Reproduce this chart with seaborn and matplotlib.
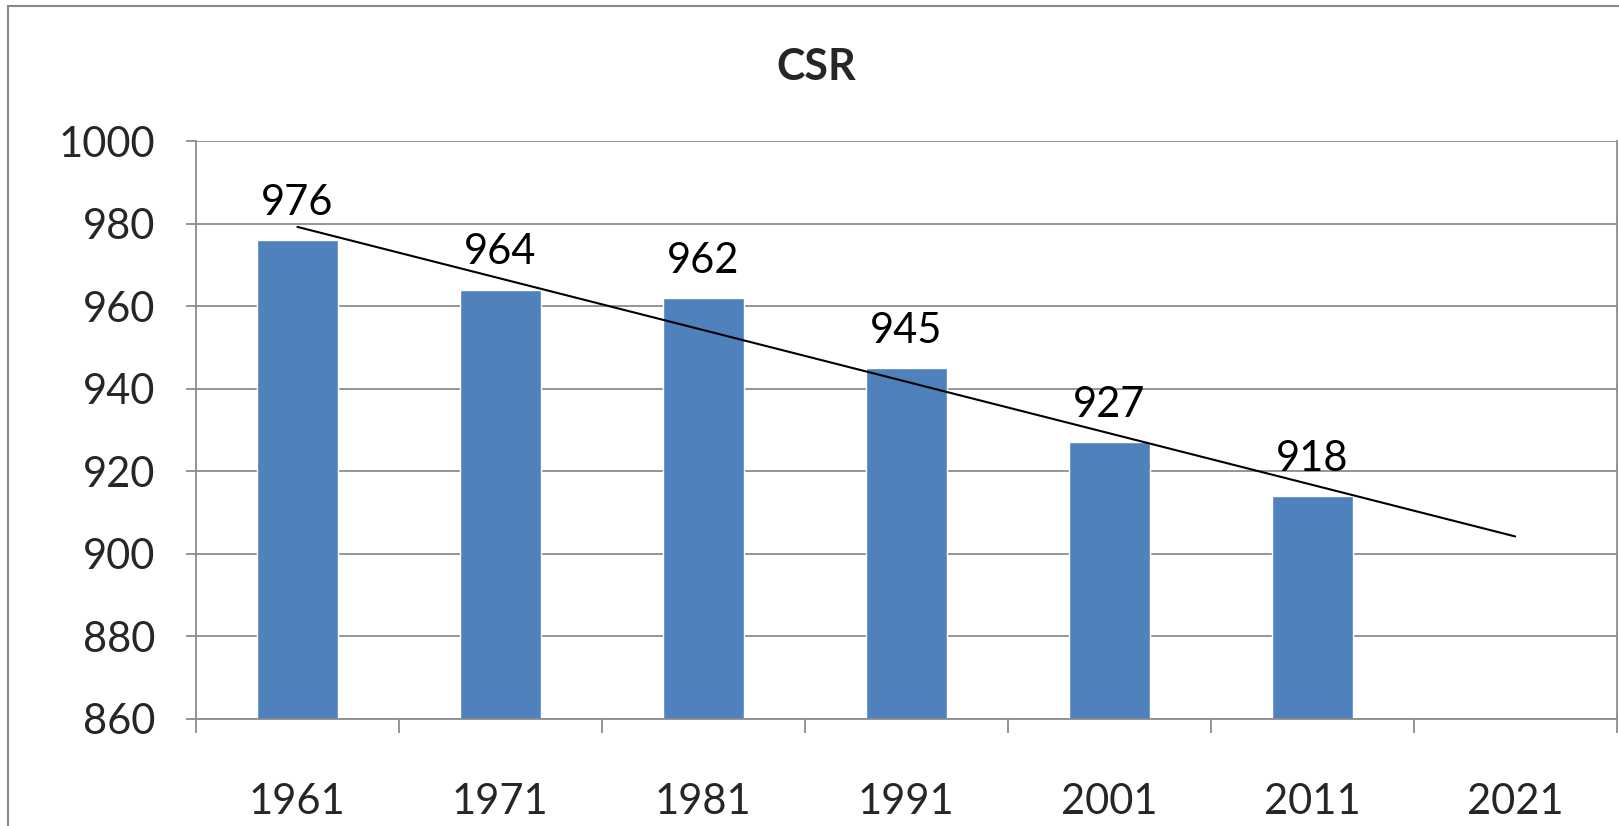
import numpy as np
import matplotlib
matplotlib.use("Agg")
import matplotlib.pyplot as plt
import matplotlib.patches as mpatches
import seaborn as sns

# Census years and child sex ratio values
years = ["1961", "1971", "1981", "1991", "2001", "2011", "2021"]
bar_years = ["1961", "1971", "1981", "1991", "2001", "2011"]
csr_values = [976, 964, 962, 945, 927, 914]
label_texts = ["976", "964", "962", "945", "927", "918"]
y_ticks = [860, 880, 900, 920, 940, 960, 980, 1000]

BAR_COLOR = "#4F81BD"
GRID_COLOR = "#8c8c8c"

sns.set_theme(style="white")
plt.rcParams["font.family"] = ["Lato", "DejaVu Sans"]

fig = plt.figure(figsize=(16.19, 8.26), dpi=100)
ax = fig.add_axes([0.121, 0.130, 0.8775, 0.6987])

sns.barplot(x=bar_years, y=csr_values, order=years, color=BAR_COLOR,
            saturation=1, width=0.4, ax=ax)

ax.set_ylim(860, 1000)
ax.set_xlim(-0.5, 6.5)
ax.set_yticks(y_ticks)
ax.yaxis.grid(True, color=GRID_COLOR, linewidth=1.3)
ax.set_axisbelow(True)

# linear trendline extended to 2021
coef = np.polyfit(np.arange(len(csr_values)), csr_values, 1)
x_trend = np.array([0, len(years) - 1])
ax.plot(x_trend, np.polyval(coef, x_trend), color="black", linewidth=1.5, zorder=4)

# data labels
for i, (v, txt) in enumerate(zip(csr_values, label_texts)):
    ax.annotate(txt, (i, v), xytext=(0, 27), textcoords="offset points",
                ha="center", va="center", fontsize=30, color="black", zorder=5)

# ticks
ax.set_xticks(range(len(years)))
ax.set_xticklabels(years, fontsize=30)
ax.set_xticks(np.arange(-0.5, len(years), 1), minor=True)
ax.tick_params(axis="x", which="major", length=0, pad=46)
ax.tick_params(axis="x", which="minor", length=10, width=1.3, color=GRID_COLOR,
               direction="out", bottom=True)
ax.tick_params(axis="y", which="major", length=7, width=1.3, color=GRID_COLOR,
               direction="out", left=True, pad=22, labelsize=30)
ax.set_xlabel("")
ax.set_ylabel("")

for side in ["left", "bottom", "right", "top"]:
    ax.spines[side].set_color(GRID_COLOR)
    ax.spines[side].set_linewidth(1.3)
ax.spines["top"].set_visible(False)

fig.text(0.504, 0.919, "CSR", ha="center", va="center", fontsize=31,
         fontweight="bold")

# outer chart border
fig.add_artist(mpatches.Rectangle((8 / 1619, -0.05), 1.0, 1 - 6 / 826 + 0.05,
                                  transform=fig.transFigure, fill=False,
                                  edgecolor="#8a8a8a", linewidth=1.5))

fig.savefig("out.png", dpi=100)
